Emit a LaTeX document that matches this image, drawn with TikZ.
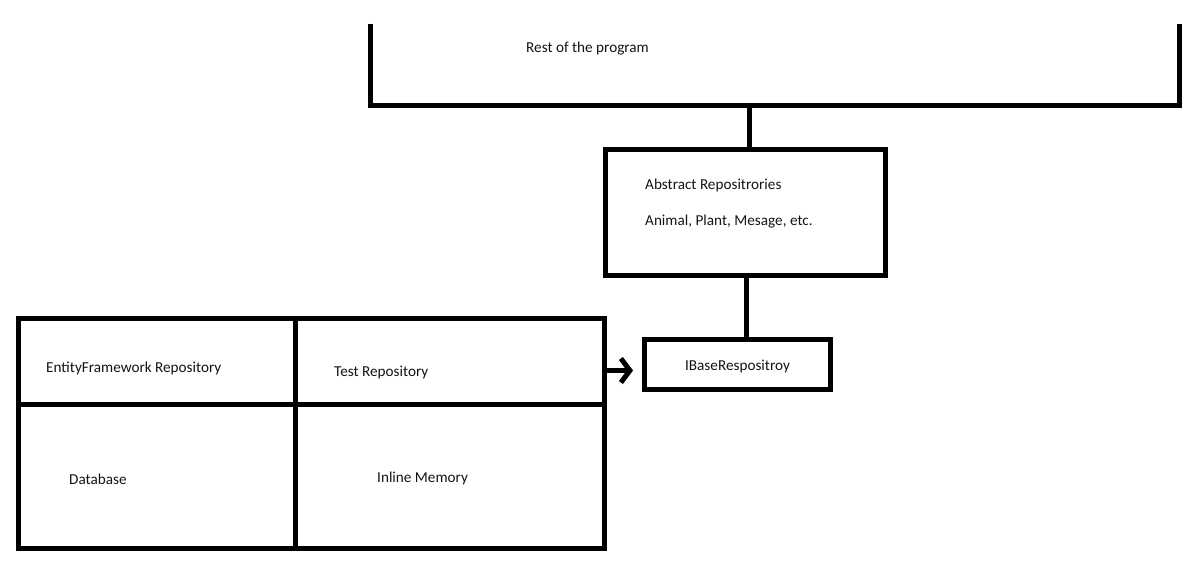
\documentclass[tikz,border=0pt]{standalone}
\usepackage{fontspec}
\setmainfont{Carlito}
\usetikzlibrary{arrows.meta,calc}
\definecolor{inkline}{HTML}{000000}
\definecolor{inktext}{HTML}{141414}
\tikzset{box/.style={rectangle,draw=inkline,line width=5bp,inner sep=0pt,text height=12.4bp,text depth=0pt,font=\fontsize{15.2bp}{18bp}\selectfont,text=inktext},note/.style={anchor=base west,inner sep=0pt,font=\fontsize{15.2bp}{18bp}\selectfont,text=inktext},link/.style={draw=inkline,line width=5bp,line join=miter},feed/.style={link,-{Straight Barb[length=9bp,width=24bp]},shorten >=9bp}}

\begin{document}
\begin{tikzpicture}[x=1bp,y=-1bp]
\useasboundingbox (0,0) rectangle (1193,566);
\coordinate (restL) at (370.5,24);
\coordinate (restR) at (1179,24);
\draw[link] (restL) -- ++(0,82) -| (restR);
\node[note] (rest) at (526,52.3) {Rest of the program};
\node[box,minimum width=279.5bp,minimum height=126bp] (abs) at (745.25,212.5) {};
\node[note] (absname) at (645,190) {Abstract Repositrories};
\node[note] (abskinds) at (645,226) {Animal, Plant, Mesage, etc.};
\node[box,minimum width=186bp,minimum height=50bp] (ibase) at (737.5,364.5) {IBaseRespositroy};
\foreach \n/\cx/\cy/\w/\h in {ef/157.25/361.5/276.5/86,test/450/361.5/309/86,db/157.25/476.25/276.5/143.5,mem/450/476.25/309/143.5}{\node[box,minimum width=\w bp,minimum height=\h bp] (\n) at (\cx,\cy) {};}
\node[note] (eftext) at (46,372.7) {EntityFramework Repository};
\node[note] (testtext) at (334,376.7) {Test Repository};
\node[note] (dbtext) at (69,484) {Database};
\node[note] (memtext) at (377,482.7) {Inline Memory};
\coordinate (tap) at (749.5,106);
\draw[link] (tap) -- (tap |- abs.north);
\coordinate (drop) at (746.5,0);
\draw[link] (abs.south -| drop) -- (ibase.north -| drop);
\coordinate (tail) at (604.5,370.5);
\draw[feed] (tail) -- (tail -| ibase.west);
\end{tikzpicture}
\end{document}
